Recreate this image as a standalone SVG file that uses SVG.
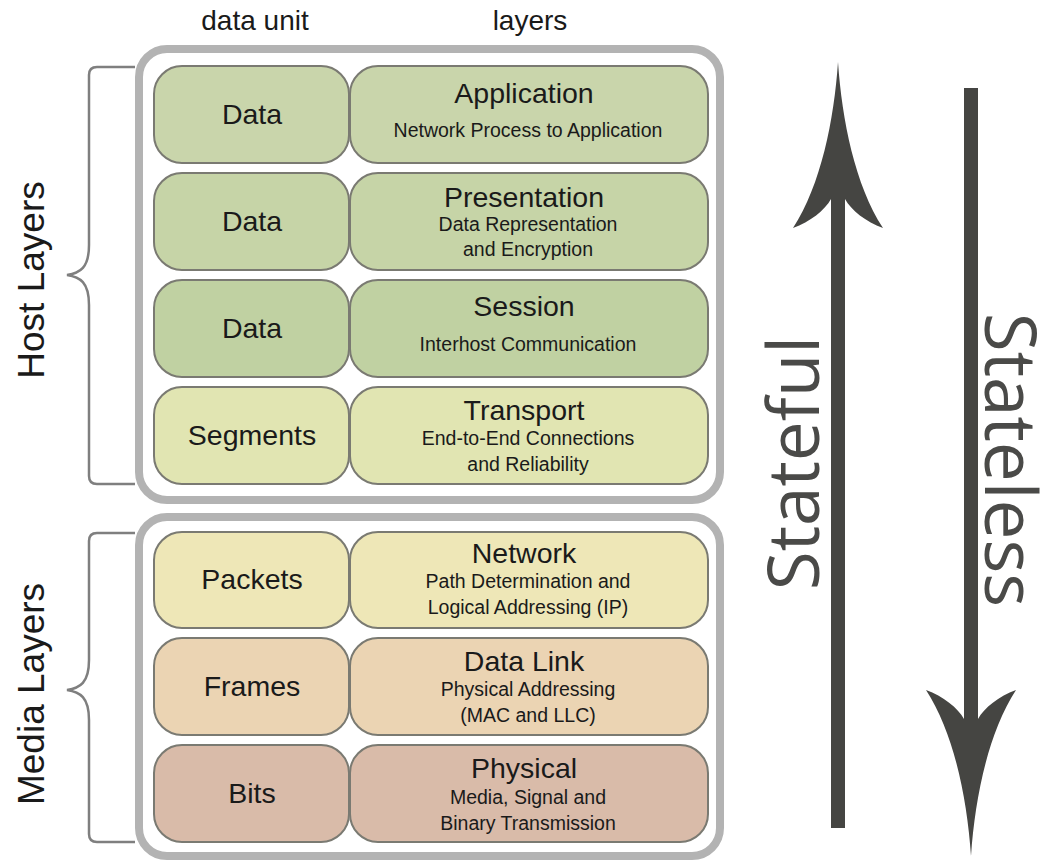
<svg xmlns="http://www.w3.org/2000/svg" width="1046" height="863" viewBox="0 0 1046 863">
<style>
  .frame { fill: #ffffff; stroke: #b3b3b3; stroke-width: 8; }
  .cell { stroke: #7a7a72; stroke-width: 2; }
  .brace { fill: none; stroke: #7f7f7f; stroke-width: 2.5; }
  .t { font-family: "Liberation Sans", Arial, sans-serif; fill: #1a1a1a; text-anchor: middle; }
  .unit { font-size: 28.5px; }
  .title { font-size: 28.5px; }
  .sub { font-size: 19.5px; }
  .head { font-size: 28px; }
  .side { font-size: 37px; }
  .big { font-family: "Open Sans", "Liberation Sans", sans-serif; font-size: 71px; fill: #4a4a48; text-anchor: middle; }
  .arrow { fill: #454542; }
  .g1 { fill: #c9d5ab; }
  .g2 { fill: #c6d4a7; }
  .g3 { fill: #c0d1a2; }
  .g4 { fill: #e1e5b2; }
  .y1 { fill: #eee7b7; }
  .o1 { fill: #ebd4b3; }
  .r1 { fill: #d9bba9; }
</style>

<text class="t head" x="255" y="30">data unit</text>
<text class="t head" x="530" y="30">layers</text>

<g id="host-frame">
  <rect class="frame" x="139" y="49" width="581" height="451" rx="28"/>
  <path class="brace" d="M135,67 H97 Q89,67 89,75 V245 C89,268 80,273 67,275 C80,277 89,282 89,305 V476 Q89,484 97,484 H135"/>
  <text class="t side" transform="rotate(-90 44 280)" x="44" y="280">Host Layers</text>
</g>

<g id="media-frame">
  <rect class="frame" x="139" y="517" width="581" height="339" rx="28"/>
  <path class="brace" d="M135,533 H97 Q89,533 89,541 V660 C89,683 80,688 67,690 C80,692 89,697 89,720 V834 Q89,842 97,842 H135"/>
  <text class="t side" transform="rotate(-90 44 694)" x="44" y="694">Media Layers</text>
</g>

<g id="application">
  <rect class="cell g1" x="154" y="66" width="195" height="97" rx="28"/>
  <rect class="cell g1" x="350" y="66" width="358" height="97" rx="28"/>
  <text class="t unit" x="252" y="124">Data</text>
  <text class="t title" x="524" y="103">Application</text>
  <text class="t sub" x="528" y="137">Network Process to Application</text>
</g>

<g id="presentation">
  <rect class="cell g2" x="154" y="173" width="195" height="97" rx="28"/>
  <rect class="cell g2" x="350" y="173" width="358" height="97" rx="28"/>
  <text class="t unit" x="252" y="231">Data</text>
  <text class="t title" x="524" y="207">Presentation</text>
  <text class="t sub" x="528" y="231">Data Representation</text>
  <text class="t sub" x="528" y="256">and Encryption</text>
</g>

<g id="session">
  <rect class="cell g3" x="154" y="280" width="195" height="97" rx="28"/>
  <rect class="cell g3" x="350" y="280" width="358" height="97" rx="28"/>
  <text class="t unit" x="252" y="338">Data</text>
  <text class="t title" x="524" y="316">Session</text>
  <text class="t sub" x="528" y="351">Interhost Communication</text>
</g>

<g id="transport">
  <rect class="cell g4" x="154" y="387" width="195" height="97" rx="28"/>
  <rect class="cell g4" x="350" y="387" width="358" height="97" rx="28"/>
  <text class="t unit" x="252" y="445">Segments</text>
  <text class="t title" x="524" y="420">Transport</text>
  <text class="t sub" x="528" y="445">End-to-End Connections</text>
  <text class="t sub" x="528" y="471">and Reliability</text>
</g>

<g id="network">
  <rect class="cell y1" x="154" y="532" width="195" height="96" rx="28"/>
  <rect class="cell y1" x="350" y="532" width="358" height="96" rx="28"/>
  <text class="t unit" x="252" y="589">Packets</text>
  <text class="t title" x="524" y="563">Network</text>
  <text class="t sub" x="528" y="588">Path Determination and</text>
  <text class="t sub" x="528" y="614">Logical Addressing (IP)</text>
</g>

<g id="datalink">
  <rect class="cell o1" x="154" y="638" width="195" height="97" rx="28"/>
  <rect class="cell o1" x="350" y="638" width="358" height="97" rx="28"/>
  <text class="t unit" x="252" y="696">Frames</text>
  <text class="t title" x="524" y="671">Data Link</text>
  <text class="t sub" x="528" y="696">Physical Addressing</text>
  <text class="t sub" x="528" y="722">(MAC and LLC)</text>
</g>

<g id="physical">
  <rect class="cell r1" x="154" y="745" width="195" height="97" rx="28"/>
  <rect class="cell r1" x="350" y="745" width="358" height="97" rx="28"/>
  <text class="t unit" x="252" y="803">Bits</text>
  <text class="t title" x="524" y="778">Physical</text>
  <text class="t sub" x="528" y="804">Media, Signal and</text>
  <text class="t sub" x="528" y="830">Binary Transmission</text>
</g>

<g id="connectors">
  <path class="arrow" d="M838,62 C842,120 855,185 883,228 C866,222 851,210 845,199 V828 H831 V199 C825,210 810,222 793,228 C821,185 834,120 838,62 Z"/>
  <path class="arrow" d="M971,856 C975,798 988,733 1016,690 C999,696 984,708 978,719 V88 H964 V719 C958,708 943,696 926,690 C954,733 967,798 971,856 Z"/>
</g>

<g id="stateful">
  <text class="big" transform="rotate(-90 819 463)" x="819" y="463">Stateful</text>
</g>
<g id="stateless">
  <text class="big" transform="rotate(90 985 460)" x="985" y="460">Stateless</text>
</g>
</svg>
